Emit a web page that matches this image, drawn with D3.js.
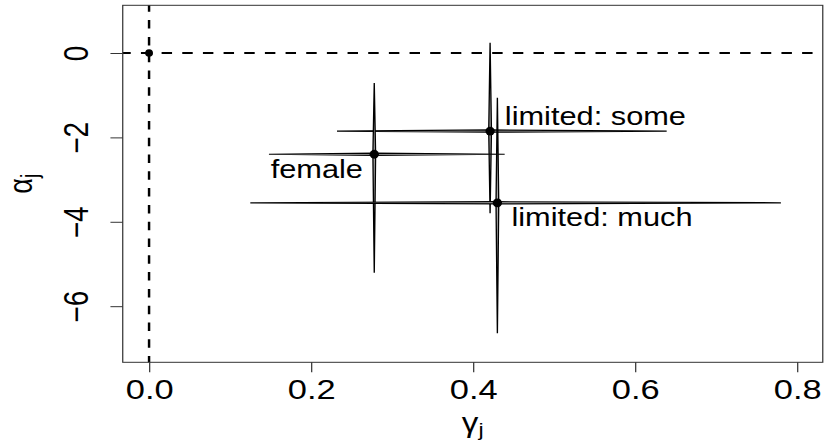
<!DOCTYPE html>
<html>
<head>
<meta charset="utf-8">
<script src="https://cdn.jsdelivr.net/npm/d3@7"></script>
<style>
  html, body { margin: 0; padding: 0; background: #fff; }
  svg { display: block; }
  text { font-family: "Liberation Sans", Arial, Helvetica, sans-serif; fill: #000; }
</style>
</head>
<body>
<svg id="chart"></svg>
<script>
// Estimates (gamma, alpha) with their interval ends
var categories = ["limited: some", "female", "limited: much"];
var gammaEst = [0.421, 0.278, 0.430];
var gammaLo  = [0.232, 0.148, 0.125];
var gammaHi  = [0.639, 0.439, 0.780];
var alphaEst = [-1.85, -2.40, -3.55];
var alphaLo  = [-3.80, -5.21, -6.64];
var alphaHi  = [0.24, -0.71, -1.06];

// reference point at the origin
var refGamma = [0];
var refAlpha = [0];

var xTicks = [0, 0.2, 0.4, 0.6, 0.8];
var yTicks = [0, -2, -4, -6];

// The picture is stretched sideways, so draw in a narrower box and let the viewBox stretch it
var width = 824, height = 443,
    innerW = 670;

var box = { left: 99.8, right: 669, top: 5.3, bottom: 362.3 };

var x = d3.scaleLinear().domain([-0.0325, 0.8317]).range([box.left, box.right]);
var y = d3.scaleLinear().domain([-7.33, 1.13]).range([box.bottom, box.top]);

var svg = d3.select("#chart")
  .attr("width", width)
  .attr("height", height)
  .attr("viewBox", "0 0 " + innerW + " " + height)
  .attr("preserveAspectRatio", "none");

// dashed reference lines through zero
svg.append("line")
  .attr("x1", box.left).attr("x2", box.right)
  .attr("y1", y(0)).attr("y2", y(0))
  .attr("stroke", "#000").attr("stroke-width", 2)
  .attr("stroke-dasharray", "8.5,8.3")
  .attr("stroke-dashoffset", 2);

svg.append("line")
  .attr("x1", x(0)).attr("x2", x(0))
  .attr("y1", box.top).attr("y2", box.bottom)
  .attr("stroke", "#000").attr("stroke-width", 2)
  .attr("stroke-dasharray", "8.5,8.3")
  .attr("stroke-dashoffset", 2);

var rows = categories.map(function(c, i) {
  return { label: c, g: gammaEst[i], gLo: gammaLo[i], gHi: gammaHi[i],
           a: alphaEst[i], aLo: alphaLo[i], aHi: alphaHi[i] };
});

var lensW = 1.1, lensH = 1.1;

// thin lens shapes for each interval
var g = svg.selectAll(".est")
  .data(rows)
  .enter().append("g")
  .attr("class", "est");

g.append("path")
  .attr("d", function(d) {
    return "M" + x(d.gLo) + "," + y(d.a) +
           "L" + x(d.g) + "," + (y(d.a) - lensH) +
           "L" + x(d.gHi) + "," + y(d.a) +
           "L" + x(d.g) + "," + (y(d.a) + lensH) + "Z";
  })
  .attr("fill", "#b0b0b0")
  .attr("stroke", "#000")
  .attr("stroke-width", 1.2)
  .attr("stroke-linejoin", "bevel");

g.append("path")
  .attr("d", function(d) {
    return "M" + x(d.g) + "," + y(d.aHi) +
           "L" + (x(d.g) + lensW) + "," + y(d.a) +
           "L" + x(d.g) + "," + y(d.aLo) +
           "L" + (x(d.g) - lensW) + "," + y(d.a) + "Z";
  })
  .attr("fill", "#b0b0b0")
  .attr("stroke", "#000")
  .attr("stroke-width", 1.1)
  .attr("stroke-linejoin", "bevel");

g.append("ellipse")
  .attr("cx", function(d) { return x(d.g); })
  .attr("cy", function(d) { return y(d.a); })
  .attr("rx", 3.8).attr("ry", 4.4)
  .attr("fill", "#000");

svg.selectAll(".ref")
  .data(refGamma)
  .enter().append("ellipse")
  .attr("class", "ref")
  .attr("cx", function(d) { return x(d); })
  .attr("cy", function(d, i) { return y(refAlpha[i]); })
  .attr("rx", 3.2).attr("ry", 3.8)
  .attr("fill", "#000");

// where each label sits relative to its point
var labelPlace = {
  "limited: some": { dx: 12, dy: -6, anchor: "start" },
  "female":        { dx: -9.2, dy: 24, anchor: "end" },
  "limited: much": { dx: 11.4, dy: 23.3, anchor: "start" }
};

g.append("text")
  .attr("x", function(d) { return x(d.g) + labelPlace[d.label].dx; })
  .attr("y", function(d) { return y(d.a) + labelPlace[d.label].dy; })
  .attr("text-anchor", function(d) { return labelPlace[d.label].anchor; })
  .style("font-size", "25px")
  .text(function(d) { return d.label; });

// plot box
svg.append("rect")
  .attr("x", box.left).attr("y", box.top)
  .attr("width", box.right - box.left)
  .attr("height", box.bottom - box.top)
  .attr("fill", "none")
  .attr("stroke", "#333")
  .attr("stroke-width", 1);

// x axis
var xAxis = svg.append("g")
  .attr("transform", "translate(0," + box.bottom + ")")
  .call(d3.axisBottom(x).tickValues(xTicks).tickSize(10).tickPadding(6.8)
    .tickFormat(d3.format(".1f")));
xAxis.select(".domain").remove();
xAxis.selectAll("line").attr("stroke", "#333");
xAxis.selectAll("text")
  .attr("fill", "#000")
  .style("font-size", "28px")
  .style("font-family", "'Liberation Sans', Arial, sans-serif");

// y axis, labels turned upright along the axis
var yAxis = svg.append("g")
  .attr("transform", "translate(" + box.left + ",0)")
  .call(d3.axisLeft(y).tickValues(yTicks).tickSize(10).tickFormat(d3.format("d")));
yAxis.select(".domain").remove();
yAxis.selectAll("line").attr("stroke", "#333");
yAxis.selectAll("text")
  .attr("x", null).attr("dy", null)
  .attr("text-anchor", "middle")
  .attr("transform", "translate(" + (71.8 - box.left) + ",0) rotate(-90)")
  .attr("fill", "#000")
  .style("font-size", "28px")
  .style("font-family", "'Liberation Sans', Arial, sans-serif");

// axis titles
var xt = svg.append("text")
  .attr("x", (box.left + box.right) / 2)
  .attr("y", 432)
  .attr("text-anchor", "middle")
  .style("font-size", "27px");
xt.append("tspan").text("γ");
xt.append("tspan").attr("dy", 4).style("font-size", "19px").text("j");

var yt = svg.append("text")
  .attr("transform", "translate(25.8," + (box.top + box.bottom) / 2 + ") rotate(-90)")
  .attr("text-anchor", "middle")
  .style("font-size", "27px");
yt.append("tspan").text("α");
yt.append("tspan").attr("dy", 5).style("font-size", "19px").text("j");
</script>
</body>
</html>
